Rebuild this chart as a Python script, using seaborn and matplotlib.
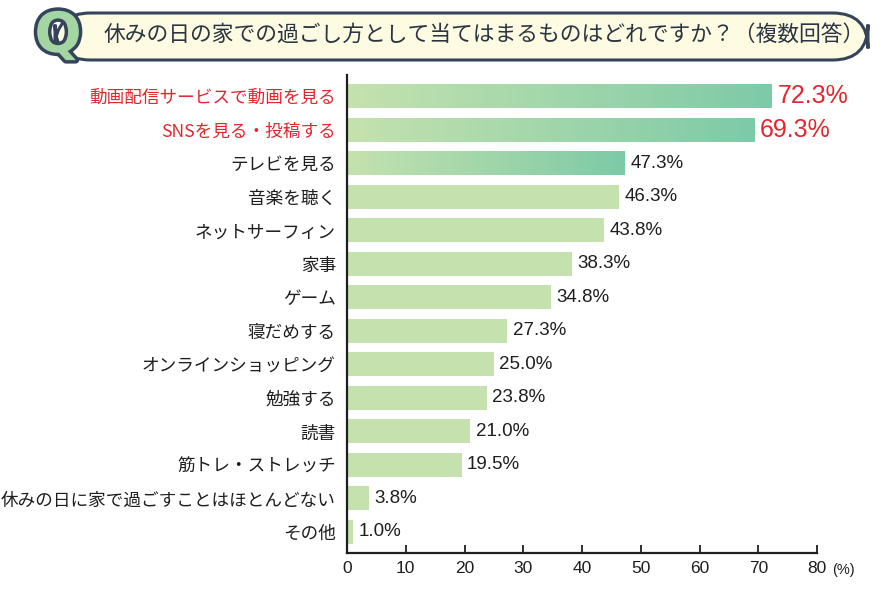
import numpy as np
import pandas as pd
import matplotlib
matplotlib.use("Agg")
import matplotlib.pyplot as plt
import seaborn as sns
from matplotlib.colors import LinearSegmentedColormap
from matplotlib.patches import FancyBboxPatch
import matplotlib.patheffects as pe

categories = ["動画配信サービスで動画を見る", "SNSを見る・投稿する", "テレビを見る", "音楽を聴く",
              "ネットサーフィン", "家事", "ゲーム", "寝だめする", "オンラインショッピング",
              "勉強する", "読書", "筋トレ・ストレッチ", "休みの日に家で過ごすことはほとんどない", "その他"]
values = [72.3, 69.3, 47.3, 46.3, 43.8, 38.3, 34.8, 27.3, 25.0, 23.8, 21.0, 19.5, 3.8, 1.0]
xticks = [0, 10, 20, 30, 40, 50, 60, 70, 80]
title = "休みの日の家での過ごし方として当てはまるものはどれですか？（複数回答）"

sns.set_theme(style="white")
plt.rcParams['font.family'] = ['Noto Sans CJK JP', 'DejaVu Sans']

RED = "#e3262e"
DARK = "#1e1e1e"
LIGHT = "#c5e2ae"
TEAL = "#7dcaa8"

fig = plt.figure(figsize=(8.86, 5.91), dpi=100)
ax = fig.add_axes([347/886, 1-553/591, 470/886, (553-75)/591])

df = pd.DataFrame({"cat": categories, "val": values})
sns.barplot(data=df, x="val", y="cat", ax=ax, color=LIGHT, saturation=1, width=0.72,
            edgecolor="none", linewidth=0)

# gradient overlay on top 3 bars
cmap = LinearSegmentedColormap.from_list("g", [LIGHT, TEAL])
grad = np.linspace(0, 1, 256).reshape(1, -1)
for i, p in enumerate(ax.patches[:3]):
    x0, y0 = p.get_x(), p.get_y()
    w, h = p.get_width(), p.get_height()
    im = ax.imshow(grad, cmap=cmap, aspect="auto", extent=[x0, x0 + w, y0 + h, y0],
                   zorder=p.get_zorder() + 0.1, interpolation="bicubic")
    im.set_clip_path(p)
ax.set_xlim(0, 80)
ax.set_ylim(13.63, -0.63)

# value labels
for i, v in enumerate(values):
    if i < 2:
        ax.text(v + 1.0, i, f"{v:.1f}%", va="center", ha="left", fontsize=18,
                color=RED, family=['Liberation Sans', 'DejaVu Sans'])
    else:
        ax.text(v + 0.9, i, f"{v:.1f}%", va="center", ha="left", fontsize=13.5,
                color=DARK, family=['Liberation Sans', 'DejaVu Sans'])

ax.set_xlabel("")
ax.set_ylabel("")
ax.set_xticks(xticks)
ax.set_xticklabels([str(t) for t in xticks], fontsize=12.5, color=DARK,
                   family=['Liberation Sans', 'DejaVu Sans'])
ax.tick_params(axis="x", direction="in", length=6, width=1.3, color=DARK, pad=6, bottom=True)
ax.tick_params(axis="y", length=0, pad=8)
for k, lab in enumerate(ax.get_yticklabels()):
    lab.set_fontsize(12.7)
    lab.set_color(RED if k < 2 else DARK)

for s in ["top", "right"]:
    ax.spines[s].set_visible(False)
for s in ["left", "bottom"]:
    ax.spines[s].set_color(DARK)
    ax.spines[s].set_linewidth(1.6)

ax.annotate("(%)", xy=(80, 0), xycoords=("data", "axes fraction"), xytext=(11, -7),
            textcoords="offset points", ha="left", va="top", fontsize=10.5, color=DARK,
            family=['Liberation Sans', 'DejaVu Sans'])

# title banner
box = FancyBboxPatch((55/886, 1-60/591), (868-55)/886, 47/591,
                     boxstyle="round,pad=0,rounding_size=0.04",
                     transform=fig.transFigure, facecolor="#fdfbe1", edgecolor="#35445a",
                     linewidth=2.2, mutation_aspect=886/591)
fig.patches.append(box)
fig.text(58/886, 1-37/591, "Q", fontsize=40, fontweight="bold", color="#a4d6a4",
         ha="center", va="center", family=['DejaVu Sans'],
         path_effects=[pe.withStroke(linewidth=5, foreground="#35445a")])
fig.text(104/886, 1-35/591, title, fontsize=15.7, color="#2b3442",
         ha="left", va="center")

fig.savefig("out.png", dpi=100)
